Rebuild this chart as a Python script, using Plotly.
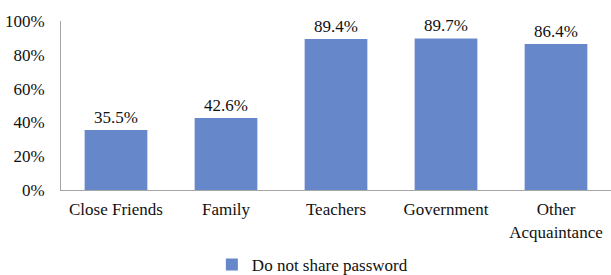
import plotly.graph_objects as go

categories = ["Close Friends", "Family", "Teachers", "Government", "Other<br>Acquaintance"]
values = [0.355, 0.426, 0.894, 0.897, 0.864]
labels = ["35.5%", "42.6%", "89.4%", "89.7%", "86.4%"]
series_name = "Do not share password"

font_family = "Liberation Serif, Times New Roman, serif"
bar_color = "#6687C9"

fig = go.Figure()
fig.add_trace(go.Bar(
    x=categories, y=values, name=series_name,
    marker=dict(color=bar_color, line=dict(width=0)),
    text=labels, textposition="outside", cliponaxis=False,
    textfont=dict(family=font_family, size=17, color="#111111"),
    width=0.57,
))

fig.update_layout(
    width=611, height=275,
    margin=dict(l=61, r=0, t=21, b=85, autoexpand=False),
    plot_bgcolor="white", paper_bgcolor="white",
    font=dict(family=font_family, size=17, color="#111111"),
    showlegend=True,
    legend=dict(orientation="h", x=0.457, xanchor="center", y=-0.444, yanchor="middle",
                font=dict(family=font_family, size=17, color="#111111"),
                itemwidth=30),
    yaxis=dict(range=[0, 1], tickvals=[0, 0.2, 0.4, 0.6, 0.8, 1.0], tickformat=".0%",
               showgrid=False, zeroline=False, showline=True, linecolor="#A6A6A6",
               linewidth=1, ticks="", ticklen=0, ticklabelstandoff=12, automargin=False),
    xaxis=dict(showgrid=False, showline=True, linecolor="#A6A6A6", linewidth=1,
               ticks="", tickfont=dict(size=17), automargin=False, ticklabelstandoff=4),
    bargap=0.43,
)

fig.write_html("out.html", config={"displayModeBar": False},
               post_script="document.body.style.margin='0';")
